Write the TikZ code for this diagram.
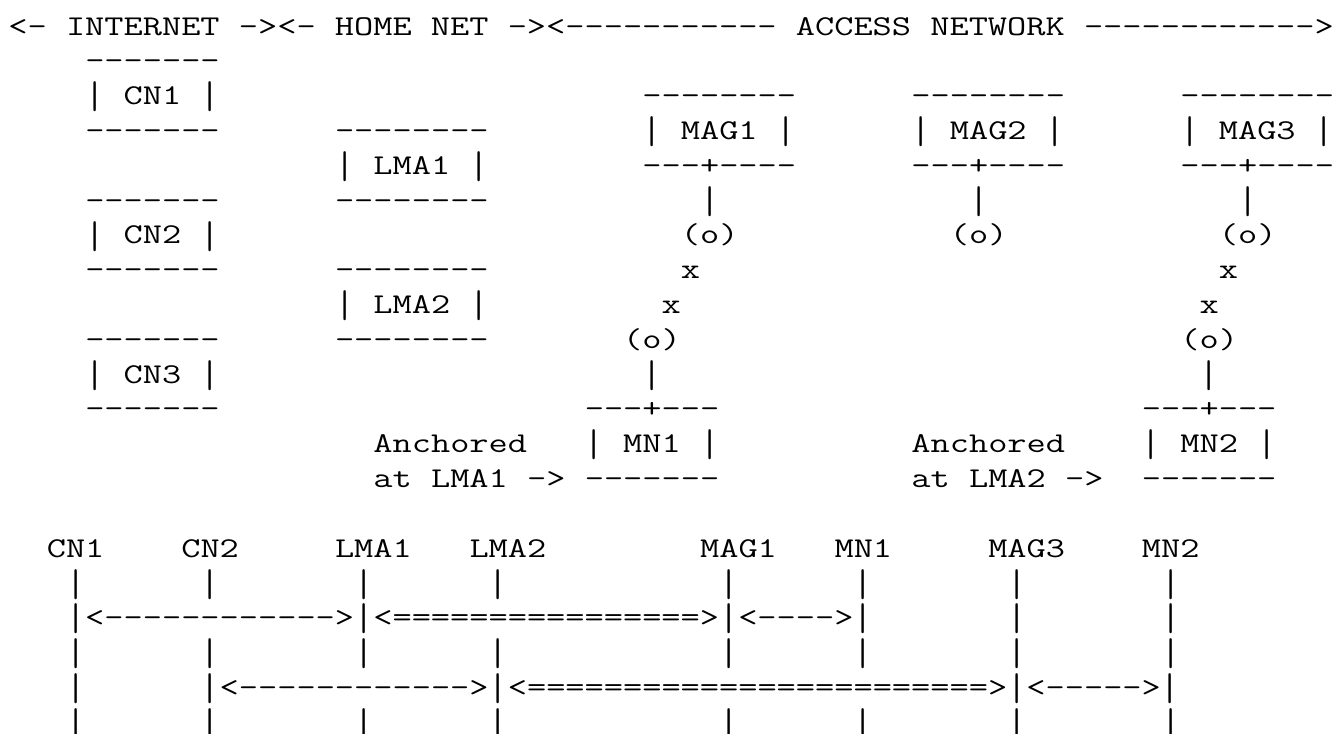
\documentclass[tikz,border=0pt]{standalone}
\usepackage{graphicx}
\usepackage{fontspec}
\setmonofont{Latin Modern Mono}[FakeStretch=1.301]
\newcommand\asciifont{\ttfamily\fontsize{21.5pt}{21.5pt}\selectfont\spaceskip=14.41pt\relax}
\newcommand\tallbar{\raisebox{-0.15em}{\scalebox{1}[1.35]{\char"7C}}}
\begingroup\lccode`\~=`\| \lowercase{\endgroup\def~}{\tallbar}
\tikzset{ascii/.style={font=\asciifont, anchor=base west, inner sep=0pt, outer sep=0pt}}

\begin{document}
\catcode`\|=\active
\begin{tikzpicture}[x=14.41pt, y=-26.1pt]
		%%%%% START %%%%%
		\fill[white] (-6.3pt, 26.25pt) rectangle (992.7pt, -523.5pt);
		\useasboundingbox (-6.3pt, 26.25pt) rectangle (992.7pt, -523.5pt);
		
		\node[ascii] (head) at (0, 0) {<- INTERNET -><- HOME NET -><----------- ACCESS NETWORK ------------>};
		
		% correspondent nodes
		\node[ascii] (cn1top) at (4, 1) {-------};
		\node[ascii] (cn1) at (4, 2) {| CN1 |};
		\node[ascii] (cn1bot) at (4, 3) {-------};
		\node[ascii] (cn2top) at (4, 5) {-------};
		\node[ascii] (cn2) at (4, 6) {| CN2 |};
		\node[ascii] (cn2bot) at (4, 7) {-------};
		\node[ascii] (cn3top) at (4, 9) {-------};
		\node[ascii] (cn3) at (4, 10) {| CN3 |};
		\node[ascii] (cn3bot) at (4, 11) {-------};
		
		% anchors
		\node[ascii] (lma1top) at (17, 3) {--------};
		\node[ascii] (lma1) at (17, 4) {| LMA1 |};
		\node[ascii] (lma1bot) at (17, 5) {--------};
		\node[ascii] (lma2top) at (17, 7) {--------};
		\node[ascii] (lma2) at (17, 8) {| LMA2 |};
		\node[ascii] (lma2bot) at (17, 9) {--------};
		
		% access gateways
		\foreach \c/\n in {33/1, 47/2, 61/3} {
			\node[ascii] (mag\n top) at (\c, 2) {--------};
			\node[ascii] (mag\n) at (\c, 3) {| MAG\n\ |};
			\node[ascii] (mag\n bot) at (\c, 4) {---+----};
			\node[ascii] (mag\n wire) at (\c+3, 5) {|};
			\node[ascii] (mag\n ant) at (\c+2, 6) {(o)};
		}
		
		% radio links
		\node[ascii] (x1a) at (35, 7) {x};
		\node[ascii] (x1b) at (34, 8) {x};
		\node[ascii] (x2a) at (63, 7) {x};
		\node[ascii] (x2b) at (62, 8) {x};
		
		% mobile nodes
		\node[ascii] (mn1ant) at (32, 9) {(o)};
		\node[ascii] (mn1wire) at (33, 10) {|};
		\node[ascii] (mn1top) at (30, 11) {---+---};
		\node[ascii] (mn1) at (30, 12) {| MN1 |};
		\node[ascii] (mn1bot) at (30, 13) {-------};
		\node[ascii] (mn2ant) at (61, 9) {(o)};
		\node[ascii] (mn2wire) at (62, 10) {|};
		\node[ascii] (mn2top) at (59, 11) {---+---};
		\node[ascii] (mn2) at (59, 12) {| MN2 |};
		\node[ascii] (mn2bot) at (59, 13) {-------};
		
		\node[ascii] (anc1) at (19, 12) {Anchored};
		\node[ascii] (anc1at) at (19, 13) {at LMA1 ->};
		\node[ascii] (anc2) at (47, 12) {Anchored};
		\node[ascii] (anc2at) at (47, 13) {at LMA2 ->};
		
		% flows
		\node[ascii] (lcn1) at (2, 15) {CN1};
		\node[ascii] (lcn2) at (9, 15) {CN2};
		\node[ascii] (llma1) at (17, 15) {LMA1};
		\node[ascii] (llma2) at (24, 15) {LMA2};
		\node[ascii] (lmag1) at (36, 15) {MAG1};
		\node[ascii] (lmn1) at (43, 15) {MN1};
		\node[ascii] (lmag3) at (51, 15) {MAG3};
		\node[ascii] (lmn2) at (59, 15) {MN2};
		
		\foreach \c/\n in {3/cn1, 10/cn2, 18/lma1, 25/lma2, 37/mag1, 44/mn1, 52/mag3, 60/mn2}
			\foreach \r in {16, 18, 20}
				\node[ascii] (\n-\r) at (\c, \r) {|};
		
		\node[ascii] (flow1) at (3, 17) {|<------------>|<================>|<---->|};
		\node[ascii] (flow1a) at (52, 17) {|};
		\node[ascii] (flow1b) at (60, 17) {|};
		\node[ascii] (flow2a) at (3, 19) {|};
		\node[ascii] (flow2) at (10, 19) {|<------------>|<========================>|<----->|};
		%%%%% END %%%%%
\end{tikzpicture}
\end{document}
